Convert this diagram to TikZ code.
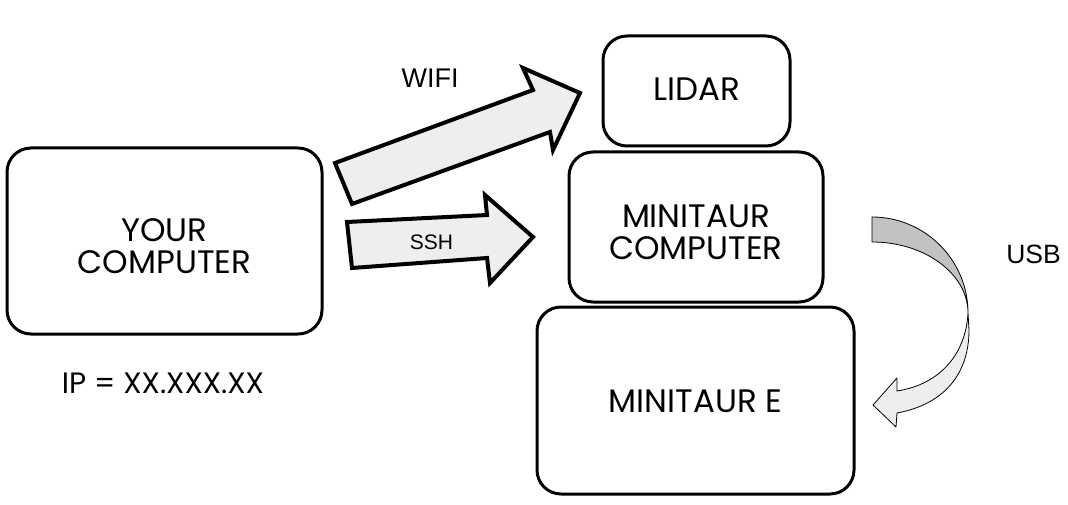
\documentclass[tikz,border=0pt]{standalone}
\usepackage{fontspec}
\newfontfamily\boxfont{Poppins}
\newfontfamily\labelfont{Liberation Sans}
\definecolor{arrowfill}{HTML}{EEEEEE}
\definecolor{twistfill}{HTML}{C2C2C2}
\begin{document}
\begin{tikzpicture}
[x=1pt,y=-1pt,
  boxDecorate/.style={shape=rectangle,draw,line width=3pt,rounded corners=24pt},
  textDecorate/.style={align=center,font=\boxfont\fontsize{32.5}{32}\selectfont},
  blockDecorate/.style={draw,line width=4pt,line join=miter,fill=arrowfill},
  twistDecorate/.style={draw,line width=0.8pt,line join=round},
  labelDecorate/.style={font=\labelfont\fontsize{#1}{#1}\selectfont}]
\useasboundingbox (0,0) rectangle (1068,505);
%% boxes
\foreach \nodename/\x/\y/\w/\h/\dy/\txt in {
  you/164.5/241/315/186/-5/{YOUR\\COMPUTER},
  lidar/696.5/91/187/110/1.5/{LIDAR},
  brain/696/227/254/150/-5/{MINITAUR\\COMPUTER},
  robot/695.5/400.5/317/187/-1/{MINITAUR E}}
{
  \node (\nodename) at (\x,\y) [boxDecorate,minimum width=\w,minimum height=\h] {};
  \node (\nodename-text) [textDecorate] at ([yshift=\dy]\nodename.center) {\txt};
}
\node (ip) at (163,383) [font=\boxfont\fontsize{29.5}{30}\selectfont] {IP = XX.XXX.XX};
%% block arrows
\draw[blockDecorate] (352,204) -- (335,163) -- (533,90) -- (523,68) -- (580,93)
  -- (553,150) -- (550,132) -- cycle;
\draw[blockDecorate] (347,222) -- (487,215) -- (485,195) -- (533,237) -- (490,283)
  -- (487,258) -- (352,268) -- cycle;
%% twisted usb arrow
\draw[twistDecorate,fill=twistfill] (872,217) .. controls (925,217) and (968,260) .. (968,313)
  .. controls (968,274) and (925,242) .. (872,242) -- cycle;
\draw[twistDecorate,fill=arrowfill] (968,313) .. controls (966,352) and (942,384) .. (897,391)
  -- (897,378) -- (873,405) -- (896,427) -- (897,413)
  .. controls (946,404) and (969,372) .. (969,330) -- cycle;
%% labels
\node (wifi) at (430,78) [labelDecorate=27] {WIFI};
\node (ssh) at (431.5,242.5) [labelDecorate=21] {SSH};
\node (usb) at (1033.5,254) [labelDecorate=26.5] {USB};
\end{tikzpicture}
\end{document}
